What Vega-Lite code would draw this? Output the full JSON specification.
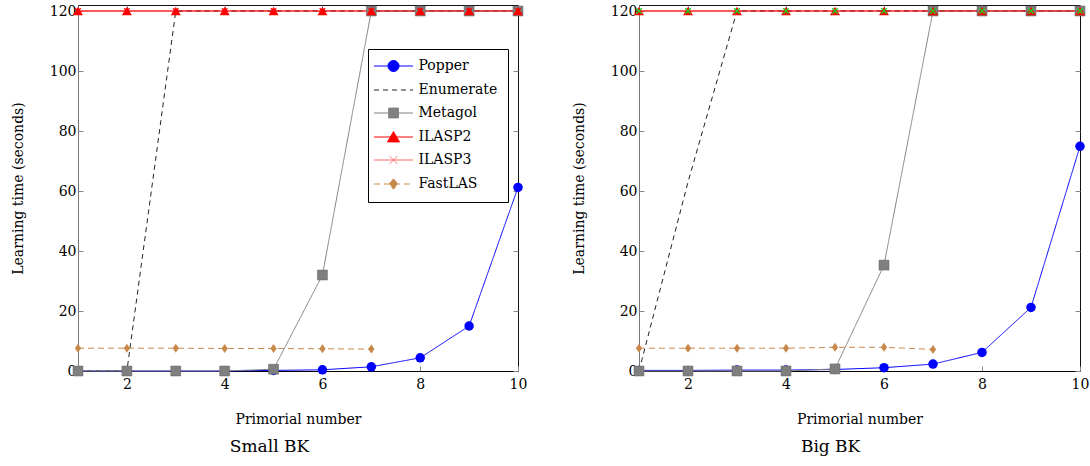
{
  "$schema": "https://vega.github.io/schema/vega-lite/v6.json",
  "padding": {"left": 10, "top": 3, "right": 5, "bottom": 5},
  "spacing": 42,
  "datasets": {
    "d": [
      {"panel":"S","series":"ILASP3","x":1,"y":120},{"panel":"S","series":"ILASP3","x":2,"y":120},{"panel":"S","series":"ILASP3","x":3,"y":120},{"panel":"S","series":"ILASP3","x":4,"y":120},{"panel":"S","series":"ILASP3","x":5,"y":120},{"panel":"S","series":"ILASP3","x":6,"y":120},{"panel":"S","series":"ILASP3","x":7,"y":120},{"panel":"S","series":"ILASP3","x":8,"y":120},{"panel":"S","series":"ILASP3","x":9,"y":120},{"panel":"S","series":"ILASP3","x":10,"y":120},
      {"panel":"S","series":"Popper","x":1,"y":0},{"panel":"S","series":"Popper","x":2,"y":0},{"panel":"S","series":"Popper","x":3,"y":0},{"panel":"S","series":"Popper","x":4,"y":0},{"panel":"S","series":"Popper","x":5,"y":0.2},{"panel":"S","series":"Popper","x":6,"y":0.4},{"panel":"S","series":"Popper","x":7,"y":1.4},{"panel":"S","series":"Popper","x":8,"y":4.4},{"panel":"S","series":"Popper","x":9,"y":15},{"panel":"S","series":"Popper","x":10,"y":61.2},
      {"panel":"S","series":"Enumerate","x":1,"y":0},{"panel":"S","series":"Enumerate","x":2,"y":0},{"panel":"S","series":"Enumerate","x":3,"y":120},{"panel":"S","series":"Enumerate","x":4,"y":120},{"panel":"S","series":"Enumerate","x":5,"y":120},{"panel":"S","series":"Enumerate","x":6,"y":120},{"panel":"S","series":"Enumerate","x":7,"y":120},{"panel":"S","series":"Enumerate","x":8,"y":120},{"panel":"S","series":"Enumerate","x":9,"y":120},{"panel":"S","series":"Enumerate","x":10,"y":120},
      {"panel":"S","series":"Metagol","x":1,"y":0},{"panel":"S","series":"Metagol","x":2,"y":0},{"panel":"S","series":"Metagol","x":3,"y":0},{"panel":"S","series":"Metagol","x":4,"y":0},{"panel":"S","series":"Metagol","x":5,"y":0.6},{"panel":"S","series":"Metagol","x":6,"y":32},{"panel":"S","series":"Metagol","x":7,"y":120},{"panel":"S","series":"Metagol","x":8,"y":120},{"panel":"S","series":"Metagol","x":9,"y":120},{"panel":"S","series":"Metagol","x":10,"y":120},
      {"panel":"S","series":"ILASP2","x":1,"y":120},{"panel":"S","series":"ILASP2","x":2,"y":120},{"panel":"S","series":"ILASP2","x":3,"y":120},{"panel":"S","series":"ILASP2","x":4,"y":120},{"panel":"S","series":"ILASP2","x":5,"y":120},{"panel":"S","series":"ILASP2","x":6,"y":120},{"panel":"S","series":"ILASP2","x":7,"y":120},{"panel":"S","series":"ILASP2","x":8,"y":120},{"panel":"S","series":"ILASP2","x":9,"y":120},{"panel":"S","series":"ILASP2","x":10,"y":120},
      {"panel":"S","series":"FastLAS","x":1,"y":7.6},{"panel":"S","series":"FastLAS","x":2,"y":7.6},{"panel":"S","series":"FastLAS","x":3,"y":7.6},{"panel":"S","series":"FastLAS","x":4,"y":7.5},{"panel":"S","series":"FastLAS","x":5,"y":7.5},{"panel":"S","series":"FastLAS","x":6,"y":7.4},{"panel":"S","series":"FastLAS","x":7,"y":7.3},
      {"panel":"B","series":"ILASP3","x":1,"y":120},{"panel":"B","series":"ILASP3","x":2,"y":120},{"panel":"B","series":"ILASP3","x":3,"y":120},{"panel":"B","series":"ILASP3","x":4,"y":120},{"panel":"B","series":"ILASP3","x":5,"y":120},{"panel":"B","series":"ILASP3","x":6,"y":120},{"panel":"B","series":"ILASP3","x":7,"y":120},{"panel":"B","series":"ILASP3","x":8,"y":120},{"panel":"B","series":"ILASP3","x":9,"y":120},{"panel":"B","series":"ILASP3","x":10,"y":120},
      {"panel":"B","series":"Popper","x":1,"y":0.2},{"panel":"B","series":"Popper","x":2,"y":0.2},{"panel":"B","series":"Popper","x":3,"y":0.3},{"panel":"B","series":"Popper","x":4,"y":0.3},{"panel":"B","series":"Popper","x":5,"y":0.5},{"panel":"B","series":"Popper","x":6,"y":1.1},{"panel":"B","series":"Popper","x":7,"y":2.3},{"panel":"B","series":"Popper","x":8,"y":6.2},{"panel":"B","series":"Popper","x":9,"y":21.2},{"panel":"B","series":"Popper","x":10,"y":74.9},
      {"panel":"B","series":"Enumerate","x":1,"y":0},{"panel":"B","series":"Enumerate","x":2,"y":63},{"panel":"B","series":"Enumerate","x":3,"y":120},{"panel":"B","series":"Enumerate","x":4,"y":120},{"panel":"B","series":"Enumerate","x":5,"y":120},{"panel":"B","series":"Enumerate","x":6,"y":120},{"panel":"B","series":"Enumerate","x":7,"y":120},{"panel":"B","series":"Enumerate","x":8,"y":120},{"panel":"B","series":"Enumerate","x":9,"y":120},{"panel":"B","series":"Enumerate","x":10,"y":120},
      {"panel":"B","series":"Metagol","x":1,"y":0},{"panel":"B","series":"Metagol","x":2,"y":0},{"panel":"B","series":"Metagol","x":3,"y":0},{"panel":"B","series":"Metagol","x":4,"y":0},{"panel":"B","series":"Metagol","x":5,"y":0.7},{"panel":"B","series":"Metagol","x":6,"y":35.3},{"panel":"B","series":"Metagol","x":7,"y":120},{"panel":"B","series":"Metagol","x":8,"y":120},{"panel":"B","series":"Metagol","x":9,"y":120},{"panel":"B","series":"Metagol","x":10,"y":120},
      {"panel":"B","series":"ILASP2","x":1,"y":120},{"panel":"B","series":"ILASP2","x":2,"y":120},{"panel":"B","series":"ILASP2","x":3,"y":120},{"panel":"B","series":"ILASP2","x":4,"y":120},{"panel":"B","series":"ILASP2","x":5,"y":120},{"panel":"B","series":"ILASP2","x":6,"y":120},{"panel":"B","series":"ILASP2","x":7,"y":120},{"panel":"B","series":"ILASP2","x":8,"y":120},{"panel":"B","series":"ILASP2","x":9,"y":120},{"panel":"B","series":"ILASP2","x":10,"y":120},
      {"panel":"B","series":"FastLAS","x":1,"y":7.6},{"panel":"B","series":"FastLAS","x":2,"y":7.6},{"panel":"B","series":"FastLAS","x":3,"y":7.6},{"panel":"B","series":"FastLAS","x":4,"y":7.6},{"panel":"B","series":"FastLAS","x":5,"y":7.9},{"panel":"B","series":"FastLAS","x":6,"y":7.9},{"panel":"B","series":"FastLAS","x":7,"y":7.2}
    ]
  },
  "resolve": {"scale": {"color": "independent", "strokeDash": "independent", "shape": "independent"}},
  "hconcat": [
    {
      "width": 440, "height": 366,
      "title": {"text": "Small BK"},
      "data": {"name": "d"},
      "transform": [{"filter": "datum.panel === 'S'"}],
      "resolve": {"axis": {"x": "independent", "y": "independent"}},
      "layer": [
        {
          "mark": {"type": "line", "strokeWidth": 1},
          "encoding": {
            "x": {"field": "x", "type": "quantitative", "scale": {"domain": [1, 10], "nice": false, "zero": false}, "axis": {"orient": "bottom", "values": [2,4,6,8,10], "title": "Primorial number", "domainColor": "#000", "labelPadding": 11, "titlePadding": 21}},
            "y": {"field": "y", "type": "quantitative", "scale": {"domain": [0, 122], "nice": false}, "axis": {"orient": "left", "values": [0,20,40,60,80,100,120], "title": "Learning time (seconds)", "domainColor": "#777", "labelPadding": 7, "titlePadding": 24}},
            "color": {"field": "series", "type": "nominal", "scale": {"domain": ["Popper","Enumerate","Metagol","ILASP2","ILASP3","FastLAS"], "range": ["#0000ff","#222222","#808080","#ff0000","#ff6666","#c8884a"]}},
            "strokeDash": {"field": "series", "type": "nominal", "scale": {"domain": ["Popper","Enumerate","Metagol","ILASP2","ILASP3","FastLAS"], "range": [[1,0],[5,4],[1,0],[1,0],[1,0],[6,4]]}}
          }
        },
        {
          "transform": [{"filter": "datum.series === 'Popper'"}],
          "mark": {"type": "point", "shape": "circle", "filled": true, "color": "#0000ff", "opacity": 1, "size": 90},
          "encoding": {
            "x": {"field": "x", "type": "quantitative", "axis": {"orient": "top", "values": [2,4,6,8,10], "labels": false, "title": null, "domain": false}},
            "y": {"field": "y", "type": "quantitative", "axis": {"orient": "right", "values": [0,20,40,60,80,100,120], "labels": false, "title": null, "domain": false}}
          }
        },
        {
          "transform": [{"filter": "datum.series === 'Metagol'"}],
          "mark": {"type": "point", "shape": "square", "filled": true, "color": "#7f7f7f", "stroke": "#666", "strokeWidth": 0.5, "opacity": 1, "size": 100},
          "encoding": {
            "x": {"field": "x", "type": "quantitative", "axis": null},
            "y": {"field": "y", "type": "quantitative", "axis": null}
          }
        },
        {
          "transform": [{"filter": "datum.series === 'ILASP2'"}],
          "mark": {"type": "point", "shape": "triangle-up", "filled": true, "color": "#ff0000", "opacity": 1, "size": 100},
          "encoding": {
            "x": {"field": "x", "type": "quantitative", "axis": null},
            "y": {"field": "y", "type": "quantitative", "axis": null}
          }
        },
        {
          "transform": [{"filter": "datum.series === 'ILASP3'"}],
          "mark": {"type": "point", "shape": "M-1,-1L1,1M-1,1L1,-1", "filled": false, "color": "#ff0000", "strokeWidth": 1.2, "opacity": 1, "size": 30},
          "encoding": {
            "x": {"field": "x", "type": "quantitative", "axis": null},
            "y": {"field": "y", "type": "quantitative", "axis": null}
          }
        },
        {
          "transform": [{"filter": "datum.series === 'FastLAS'"}],
          "mark": {"type": "point", "shape": "M0,-1L0.7,0L0,1L-0.7,0Z", "filled": true, "color": "#c8884a", "opacity": 1, "size": 81},
          "encoding": {
            "x": {"field": "x", "type": "quantitative", "axis": null},
            "y": {"field": "y", "type": "quantitative", "axis": null}
          }
        },
        {
          "mark": {"type": "point", "filled": true, "opacity": 0},
          "encoding": {
            "x": {"field": "x", "type": "quantitative", "axis": null},
            "y": {"field": "y", "type": "quantitative", "axis": null},
            "color": {"field": "series", "type": "nominal", "legend": {"title": null, "orient": "none", "legendX": 290, "legendY": 44}},
            "shape": {"field": "series", "type": "nominal", "scale": {"domain": ["Popper","Enumerate","Metagol","ILASP2","ILASP3","FastLAS"], "range": [
              "M-3.55,0H3.55M-1,0A1,1 0 1,0 1,0A1,1 0 1,0 -1,0Z",
              "M-3.55,0H3.55",
              "M-3.55,0H3.55M-0.9,-0.9H0.9V0.9H-0.9Z",
              "M-3.55,0H3.55M0,-1L1.1,0.9H-1.1Z",
              "M-3.55,0H3.55M-0.7,-0.7L0.7,0.7M-0.7,0.7L0.7,-0.7",
              "M-3.55,0H3.55M0,-0.95L0.75,0L0,0.95L-0.75,0Z"
            ]}, "legend": {"title": null, "orient": "none", "legendX": 290, "legendY": 44}},
            "strokeDash": {"field": "series", "type": "nominal", "legend": {"title": null, "orient": "none", "legendX": 290, "legendY": 44}}
          }
        }
      ]
    },
    {
      "width": 441, "height": 366,
      "title": {"text": "Big BK"},
      "data": {"name": "d"},
      "transform": [{"filter": "datum.panel === 'B'"}],
      "resolve": {"axis": {"x": "independent", "y": "independent"}},
      "layer": [
        {
          "mark": {"type": "line", "strokeWidth": 1},
          "encoding": {
            "x": {"field": "x", "type": "quantitative", "scale": {"domain": [1, 10], "nice": false, "zero": false}, "axis": {"orient": "bottom", "values": [2,4,6,8,10], "title": "Primorial number", "domainColor": "#000", "labelPadding": 11, "titlePadding": 21}},
            "y": {"field": "y", "type": "quantitative", "scale": {"domain": [0, 122], "nice": false}, "axis": {"orient": "left", "values": [0,20,40,60,80,100,120], "title": "Learning time (seconds)", "domainColor": "#777", "labelPadding": 7, "titlePadding": 24}},
            "color": {"field": "series", "type": "nominal", "scale": {"domain": ["Popper","Enumerate","Metagol","ILASP2","ILASP3","FastLAS"], "range": ["#0000ff","#222222","#808080","#ff0000","#ff6666","#c8884a"]}, "legend": null},
            "strokeDash": {"field": "series", "type": "nominal", "scale": {"domain": ["Popper","Enumerate","Metagol","ILASP2","ILASP3","FastLAS"], "range": [[1,0],[5,4],[1,0],[1,0],[1,0],[6,4]]}, "legend": null}
          }
        },
        {
          "transform": [{"filter": "datum.series === 'Popper'"}],
          "mark": {"type": "point", "shape": "circle", "filled": true, "color": "#0000ff", "opacity": 1, "size": 90},
          "encoding": {
            "x": {"field": "x", "type": "quantitative", "axis": {"orient": "top", "values": [2,4,6,8,10], "labels": false, "title": null, "domain": false}},
            "y": {"field": "y", "type": "quantitative", "axis": {"orient": "right", "values": [0,20,40,60,80,100,120], "labels": false, "title": null, "domain": false}}
          }
        },
        {
          "transform": [{"filter": "datum.series === 'Metagol'"}],
          "mark": {"type": "point", "shape": "square", "filled": true, "color": "#7f7f7f", "stroke": "#666", "strokeWidth": 0.5, "opacity": 1, "size": 100},
          "encoding": {
            "x": {"field": "x", "type": "quantitative", "axis": null},
            "y": {"field": "y", "type": "quantitative", "axis": null}
          }
        },
        {
          "transform": [{"filter": "datum.series === 'ILASP2'"}],
          "mark": {"type": "point", "shape": "triangle-up", "filled": true, "color": "#ff0000", "opacity": 1, "size": 100},
          "encoding": {
            "x": {"field": "x", "type": "quantitative", "axis": null},
            "y": {"field": "y", "type": "quantitative", "axis": null}
          }
        },
        {
          "transform": [{"filter": "datum.series === 'ILASP3'"}],
          "mark": {"type": "point", "shape": "M-1,-1L1,1M-1,1L1,-1", "filled": false, "color": "#22cc22", "strokeWidth": 1.5, "opacity": 1, "size": 30},
          "encoding": {
            "x": {"field": "x", "type": "quantitative", "axis": null},
            "y": {"field": "y", "type": "quantitative", "axis": null}
          }
        },
        {
          "transform": [{"filter": "datum.series === 'FastLAS'"}],
          "mark": {"type": "point", "shape": "M0,-1L0.7,0L0,1L-0.7,0Z", "filled": true, "color": "#c8884a", "opacity": 1, "size": 81},
          "encoding": {
            "x": {"field": "x", "type": "quantitative", "axis": null},
            "y": {"field": "y", "type": "quantitative", "axis": null}
          }
        }
      ]
    }
  ],
  "config": {
    "font": "DejaVu Serif",
    "view": {"stroke": "#111", "strokeWidth": 1},
    "axis": {"grid": false, "labelFont": "DejaVu Serif", "labelFontSize": 14, "labelColor": "#000", "titleFont": "DejaVu Serif", "titleFontSize": 14, "titleFontWeight": "normal", "titleColor": "#000", "tickColor": "#888", "tickSize": -5, "labelFlush": false, "labelOverlap": false},
    "legend": {"padding": 10, "strokeColor": "#000", "fillColor": "#fff", "symbolSize": 121, "symbolStrokeWidth": 1, "symbolOpacity": 1, "symbolOffset": 8.5, "labelOffset": 18, "labelFont": "DejaVu Serif", "labelFontSize": 14, "labelColor": "#000", "rowPadding": 9, "labelLimit": 0},
    "title": {"font": "DejaVu Serif", "fontSize": 17, "fontWeight": "normal", "color": "#000", "orient": "bottom", "offset": 13, "frame": "bounds"}
  }
}
